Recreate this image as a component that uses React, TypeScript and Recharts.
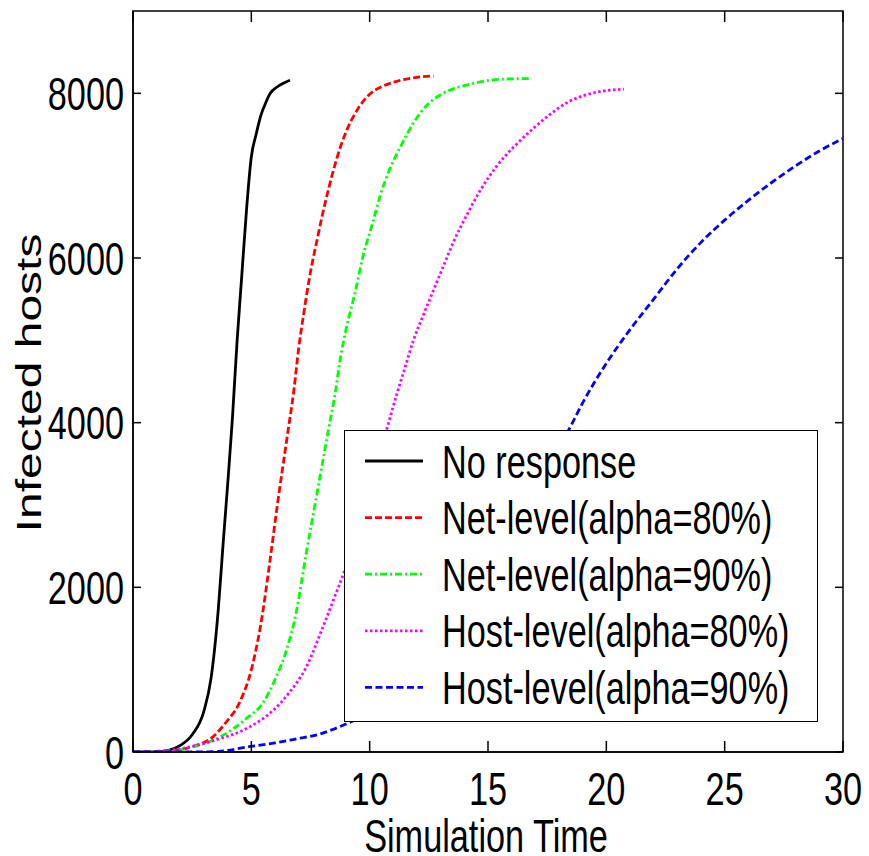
import { Legend, Line, LineChart, ReferenceArea, XAxis, YAxis } from "recharts";

// simulation time (x) and infected hosts (y) for each curve
const noResponseTime = [0, 1.0, 1.5, 2.0, 2.5, 3.0, 3.3, 3.6, 3.8, 4.0, 4.2, 4.4, 4.6, 4.8, 5.0, 5.2, 5.4, 5.6, 5.8, 6.1, 6.4, 6.63];
const noResponseHosts = [0, 0, 20, 80, 210, 500, 900, 1720, 2500, 3250, 4050, 5000, 5800, 6600, 7230, 7500, 7730, 7880, 8000, 8080, 8130, 8160];

const netLevel80Time = [0, 1.5, 2.5, 3.4, 3.9, 4.5, 5.0, 5.4, 5.8, 6.1, 6.5, 6.8, 7.0, 7.2, 7.5, 7.8, 8.0, 8.3, 8.6, 9.0, 9.5, 10.0, 10.5, 11.2, 12.0, 12.7];
const netLevel80Hosts = [0, 15, 64, 190, 350, 600, 1000, 1550, 2350, 3000, 3800, 4400, 4900, 5300, 5830, 6250, 6520, 6880, 7200, 7530, 7810, 7990, 8080, 8150, 8195, 8210];

const netLevel90Time = [0, 1.5, 2.5, 3.7, 4.8, 5.5, 6.0, 6.5, 6.9, 7.3, 7.75, 8.25, 8.55, 8.75, 9.0, 9.4, 9.7, 10.15, 10.45, 10.85, 11.3, 11.85, 12.4, 13.1, 14.1, 15.5, 16.77];
const netLevel90Hosts = [0, 10, 60, 186, 410, 600, 880, 1250, 1700, 2380, 3100, 3900, 4370, 4760, 5130, 5600, 6000, 6450, 6760, 7080, 7350, 7640, 7850, 8000, 8100, 8170, 8180];

const hostLevel80Time = [0, 1.0, 2.1, 3.5, 4.9, 5.9, 6.6, 7.3, 8.0, 8.5, 8.9, 9.5, 10.0, 10.4, 10.75, 11.15, 11.45, 11.85, 12.3, 12.7, 13.1, 13.55, 14.1, 14.65, 15.35, 16.2, 16.9, 17.6, 18.3, 19.7, 20.74];
const hostLevel80Hosts = [0, 5, 45, 146, 300, 500, 720, 1020, 1500, 1870, 2170, 2700, 3180, 3600, 3950, 4350, 4630, 5000, 5330, 5610, 5890, 6200, 6520, 6810, 7110, 7380, 7570, 7740, 7880, 8020, 8050];

const hostLevel90Time = [0, 2, 3.5, 4.9, 6, 7, 7.8, 8.5, 9.2, 10, 11, 12, 13, 14, 15, 16, 17, 18, 18.5, 19, 20, 21, 22, 23, 24, 25, 26, 27, 28, 29, 30];
const hostLevel90Hosts = [0, 0, 5, 64, 110, 165, 210, 280, 365, 470, 680, 950, 1290, 1680, 2120, 2620, 3150, 3700, 3960, 4240, 4720, 5130, 5500, 5870, 6190, 6460, 6700, 6920, 7120, 7300, 7450];

const xTicks = [0, 5, 10, 15, 20, 25, 30];
const yTicks = [0, 2000, 4000, 6000, 8000];

const zip = (time: number[], hosts: number[]) => time.map((t, i) => ({ time: t, hosts: hosts[i] }));

const series = [
  { key: "none", name: "No response", color: "#000000", dash: undefined, data: zip(noResponseTime, noResponseHosts) },
  { key: "net80", name: "Net-level(alpha=80%)", color: "#ff0000", dash: "7 3", data: zip(netLevel80Time, netLevel80Hosts) },
  { key: "net90", name: "Net-level(alpha=90%)", color: "#00ff00", dash: "7 3 2 3", data: zip(netLevel90Time, netLevel90Hosts) },
  { key: "host80", name: "Host-level(alpha=80%)", color: "#ff00ff", dash: "2.5 2.5", data: zip(hostLevel80Time, hostLevel80Hosts) },
  { key: "host90", name: "Host-level(alpha=90%)", color: "#0000ff", dash: "7 3.5", data: zip(hostLevel90Time, hostLevel90Hosts) },
];

const FONT = "Arial, 'Liberation Sans', Helvetica, sans-serif";
const SQUEEZE = 0.745; // the original figure is squashed horizontally

const CHART_W = 869;
const CHART_H = 856;
const MARGIN = { top: 11, right: 26, bottom: 0, left: 0 };
const Y_AXIS_W = 133;
const X_AXIS_H = 104;
const PLOT_LEFT = MARGIN.left + Y_AXIS_W;
const PLOT_RIGHT = CHART_W - MARGIN.right;
const PLOT_TOP = MARGIN.top;
const PLOT_BOTTOM = CHART_H - MARGIN.bottom - X_AXIS_H;

function XTick({ x, payload }: any) {
  return (
    <g>
      <line x1={x} y1={PLOT_BOTTOM} x2={x} y2={PLOT_BOTTOM - 11} stroke="#000" strokeWidth={1.5} />
      <line x1={x} y1={PLOT_TOP} x2={x} y2={PLOT_TOP + 11} stroke="#000" strokeWidth={1.5} />
      <text
        transform={`translate(${x},${PLOT_BOTTOM + 53}) scale(${SQUEEZE},1)`}
        textAnchor="middle"
        fontSize={46}
        fontFamily={FONT}
        fill="#000"
      >
        {payload.value}
      </text>
    </g>
  );
}

function YTick({ y, payload }: any) {
  return (
    <g>
      <line x1={PLOT_LEFT} y1={y} x2={PLOT_LEFT + 8} y2={y} stroke="#000" strokeWidth={1.5} />
      <line x1={PLOT_RIGHT - 8} y1={y} x2={PLOT_RIGHT} y2={y} stroke="#000" strokeWidth={1.5} />
      <text
        transform={`translate(${PLOT_LEFT - 9},${y + 16.5}) scale(${SQUEEZE},1)`}
        textAnchor="end"
        fontSize={46}
        fontFamily={FONT}
        fill="#000"
      >
        {payload.value}
      </text>
    </g>
  );
}

function XTitle() {
  return (
    <text
      transform={`translate(${(PLOT_LEFT + PLOT_RIGHT) / 2 - 2},852) scale(${SQUEEZE},1)`}
      textAnchor="middle"
      fontSize={46}
      fontFamily={FONT}
      fill="#000"
    >
      Simulation Time
    </text>
  );
}

function YTitle() {
  return (
    <text
      transform={`translate(29,383) scale(${SQUEEZE},1) rotate(-90)`}
      textAnchor="middle"
      dominantBaseline="central"
      fontSize={48}
      fontFamily={FONT}
      fill="#000"
    >
      Infected hosts
    </text>
  );
}

function LegendBox() {
  return (
    <div
      style={{
        width: 474,
        height: 292,
        boxSizing: "border-box",
        border: "1.5px solid #000",
        background: "#fff",
      }}
    >
      <svg width={471} height={289} style={{ display: "block" }}>
        {series.map((s, i) => {
          const cy = 30 + i * 56.6;
          return (
            <g key={s.key}>
              <line x1={20} y1={cy} x2={78} y2={cy} stroke={s.color} strokeWidth={2.8} strokeDasharray={s.dash} />
              <text
                transform={`translate(97,${cy + 16.5}) scale(${SQUEEZE},1)`}
                fontSize={46}
                fontFamily={FONT}
                fill="#000"
              >
                {s.name}
              </text>
            </g>
          );
        })}
      </svg>
    </div>
  );
}

export default function App() {
  return (
    <div style={{ width: CHART_W, height: CHART_H, background: "#fff" }}>
      <style>{`body { margin: 0; background: #fff; }`}</style>
      <LineChart width={CHART_W} height={CHART_H} margin={MARGIN}>
        <XAxis
          dataKey="time"
          type="number"
          domain={[0, 30]}
          ticks={xTicks}
          allowDataOverflow
          height={X_AXIS_H}
          tickSize={0}
          tickMargin={0}
          tick={<XTick />}
          axisLine={{ stroke: "#000", strokeWidth: 1.5 }}
          label={{ value: "Simulation Time", content: () => <XTitle /> }}
        />
        <YAxis
          dataKey="hosts"
          type="number"
          domain={[0, 9000]}
          ticks={yTicks}
          allowDataOverflow
          width={Y_AXIS_W}
          tickSize={0}
          tickMargin={0}
          tick={<YTick />}
          axisLine={{ stroke: "#000", strokeWidth: 1.5 }}
          label={{ value: "Infected hosts", content: () => <YTitle /> }}
        />
        <ReferenceArea x1={0} x2={30} y1={0} y2={9000} fill="none" stroke="#000" strokeWidth={1.5} ifOverflow="visible" />
        {series.map((s) => (
          <Line
            key={s.key}
            data={s.data}
            dataKey="hosts"
            name={s.name}
            type="monotone"
            stroke={s.color}
            strokeWidth={2.8}
            strokeDasharray={s.dash}
            dot={false}
            activeDot={false}
            isAnimationActive={false}
          />
        ))}
        <Legend
          layout="horizontal"
          verticalAlign="middle"
          align="center"
          width={474}
          height={292}
          wrapperStyle={{ position: "absolute", left: 344, top: 430, width: 474, height: 292 }}
          content={() => <LegendBox />}
        />
      </LineChart>
    </div>
  );
}
